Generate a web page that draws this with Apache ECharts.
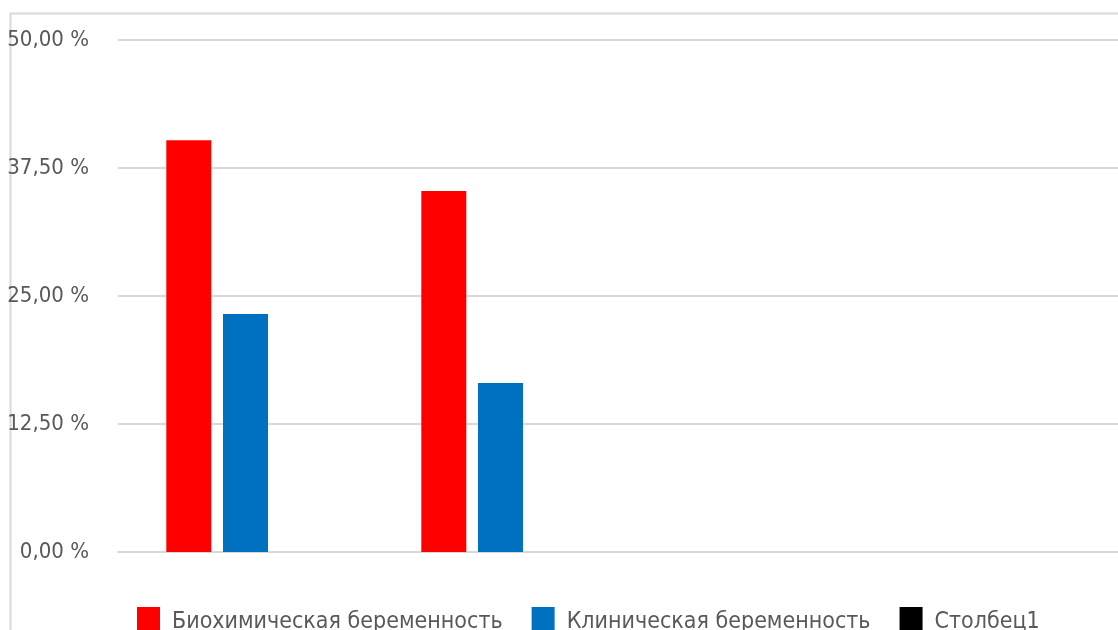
<!DOCTYPE html>
<html>
<head>
<meta charset="utf-8">
<title>Беременность</title>
<script src="https://cdn.jsdelivr.net/npm/echarts@6/dist/echarts.min.js"></script>
<style>
  html, body { margin: 0; padding: 0; background: #ffffff; }
  #chart { width: 1118px; height: 630px; }
</style>
</head>
<body>
<div id="chart"></div>
<script>
// Categories (unnamed groups on the x axis)
const categories = ['1', '2', '3', '4'];

// Series values, percent
const biochemical = [40.2, 35.25, null, null];
const clinical = [23.24, 16.5, null, null];
const column1 = [null, null, null, null];

// Series names as shown in the legend
const seriesNames = ['Биохимическая беременность', 'Клиническая беременность', 'Столбец1'];

// Y axis range and step, percent
const yMin = 0;
const yMax = 50;
const yStep = 12.5;

const FONT = '"DejaVu Sans Condensed", "DejaVu Sans", sans-serif';
const TEXT_COLOR = '#595959';
const LINE_COLOR = '#d9d9d9';

function pct(v) {
  return v.toFixed(2).replace('.', ',') + ' %';
}

const chart = echarts.init(document.getElementById('chart'), null, { renderer: 'canvas' });

chart.setOption({
  backgroundColor: '#ffffff',
  animation: false,
  textStyle: { fontFamily: FONT },
  graphic: [{
    type: 'rect',
    left: 8,
    top: 11,
    shape: { width: 1200, height: 700 },
    style: { fill: 'none', stroke: LINE_COLOR, lineWidth: 2 },
    silent: true,
    z: -1
  }],
  legend: {
    left: 137,
    top: 603,
    padding: 0,
    icon: 'rect',
    itemWidth: 23,
    itemHeight: 23,
    itemGap: 29,
    formatter: '{t|{name}}',
    textStyle: {
      fontFamily: FONT,
      fontSize: 23,
      color: TEXT_COLOR,
      padding: [0, 0, 0, 7],
      rich: {
        t: {
          fontFamily: FONT,
          fontSize: 23,
          color: TEXT_COLOR,
          lineHeight: 23,
          padding: [8, 0, 0, 0]
        }
      }
    },
    data: seriesNames
  },
  grid: {
    left: 118,
    top: 40,
    height: 512,
    width: 1020,
    outerBoundsMode: 'none',
    containLabel: false
  },
  xAxis: {
    type: 'category',
    data: categories,
    axisLine: { show: true, lineStyle: { color: LINE_COLOR, width: 2 } },
    axisTick: { show: false },
    axisLabel: { show: false },
    splitLine: { show: false }
  },
  yAxis: {
    type: 'value',
    min: yMin,
    max: yMax,
    interval: yStep,
    axisLine: { show: false },
    axisTick: { show: false },
    axisLabel: {
      formatter: pct,
      fontFamily: FONT,
      fontSize: 22,
      color: TEXT_COLOR,
      margin: 29
    },
    splitLine: { show: true, lineStyle: { color: LINE_COLOR, width: 2 } }
  },
  series: [
    {
      name: seriesNames[0],
      type: 'bar',
      data: biochemical,
      barWidth: 45,
      barGap: '26%',
      itemStyle: { color: '#ff0000' }
    },
    {
      name: seriesNames[1],
      type: 'bar',
      data: clinical,
      barWidth: 45,
      barGap: '26%',
      itemStyle: { color: '#0070c0' }
    },
    {
      name: seriesNames[2],
      type: 'bar',
      data: column1,
      barWidth: 45,
      barGap: '26%',
      itemStyle: { color: '#000000' }
    }
  ]
});
</script>
</body>
</html>
